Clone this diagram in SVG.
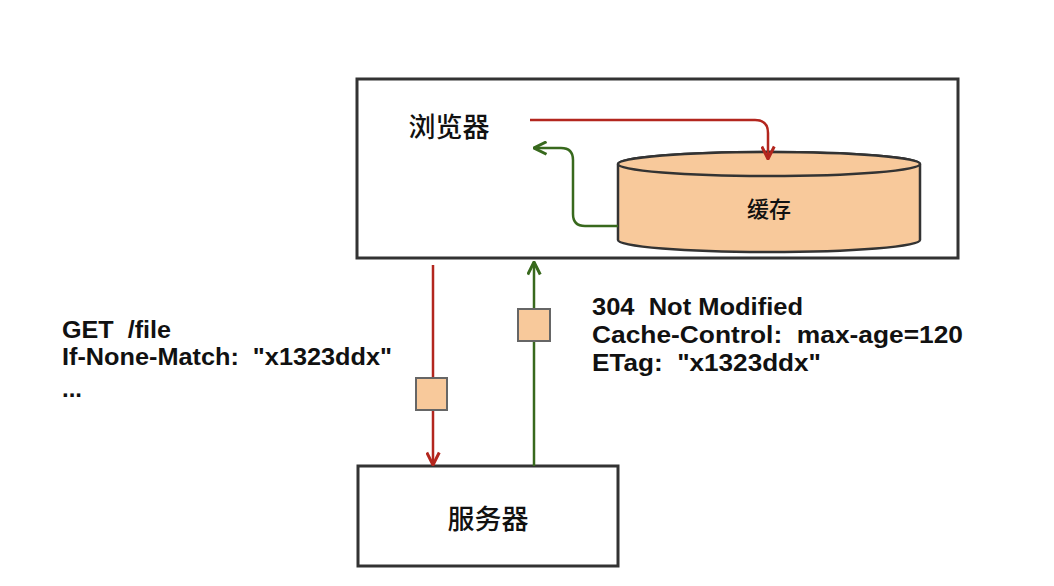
<svg xmlns="http://www.w3.org/2000/svg" width="1054" height="586" viewBox="0 0 1054 586">
<style>
.box{fill:#fff;stroke:#333;stroke-width:3}
.cyl{fill:#f8c99b;stroke:#333;stroke-width:2.5}
.msg{fill:#f8c99b;stroke:#666;stroke-width:2}
.cjk{font-family:"Noto Sans CJK SC","Noto Sans",sans-serif;font-weight:500;fill:#111}
.lbl{font-family:"Liberation Sans",Arial,sans-serif;font-weight:bold;font-size:23px;fill:#111}
.red{fill:none;stroke:#b3261e;stroke-width:2.5}
.green{fill:none;stroke:#38691d;stroke-width:2.5}
</style>
<defs>
<marker id="aR" viewBox="0 0 12 12" refX="11" refY="6" markerWidth="15" markerHeight="15" markerUnits="userSpaceOnUse" orient="auto">
<path d="M1,1 L11,6 L1,11" fill="none" stroke="#b3261e" stroke-width="2.4"/>
</marker>
<marker id="aG" viewBox="0 0 12 12" refX="11" refY="6" markerWidth="15" markerHeight="15" markerUnits="userSpaceOnUse" orient="auto">
<path d="M1,1 L11,6 L1,11" fill="none" stroke="#38691d" stroke-width="2.4"/>
</marker>
</defs>
<rect width="1054" height="586" fill="#fff"/>
<g id="browser">
<rect class="box" x="357" y="79" width="601" height="179"/>
<text class="cjk" x="449" y="137" font-size="27" text-anchor="middle">浏览器</text>
</g>
<g id="cache">
<path class="cyl" d="M618,164 L618,240 A151,12 0 0 0 920,240 L920,164 A151,12 0 0 0 618,164 Z"/>
<ellipse class="cyl" cx="769" cy="164" rx="151" ry="12"/>
<text class="cjk" x="769" y="217" font-size="22" text-anchor="middle">缓存</text>
</g>
<g id="server">
<rect class="box" x="358" y="466" width="260" height="100"/>
<text class="cjk" x="488" y="529" font-size="27" text-anchor="middle">服务器</text>
</g>
<g id="connectors">
<path class="red" d="M530,120 L755,120 Q768,120 768,133 L768,159" marker-end="url(#aR)"/>
<path class="green" d="M618,226 L585,226 Q573,226 573,214 L573,160 Q573,148 561,148 L534,148" marker-end="url(#aG)"/>
<path class="red" d="M433,265 L433,465" marker-end="url(#aR)"/>
<path class="green" d="M534,466 L534,262" marker-end="url(#aG)"/>
<rect class="msg" x="416" y="378" width="31" height="32"/>
<rect class="msg" x="518" y="309" width="32" height="32"/>
</g>
<g id="request-label">
<text class="lbl" x="62" y="338" xml:space="preserve" textLength="109" lengthAdjust="spacingAndGlyphs">GET  /file</text>
<text class="lbl" x="62" y="365" xml:space="preserve" textLength="330" lengthAdjust="spacingAndGlyphs">If-None-Match:  "x1323ddx"</text>
<text class="lbl" x="62" y="397" textLength="20" lengthAdjust="spacingAndGlyphs">...</text>
</g>
<g id="response-label">
<text class="lbl" x="592" y="315" xml:space="preserve" textLength="211" lengthAdjust="spacingAndGlyphs">304  Not Modified</text>
<text class="lbl" x="592" y="343" xml:space="preserve" textLength="371" lengthAdjust="spacingAndGlyphs">Cache-Control:  max-age=120</text>
<text class="lbl" x="592" y="371" xml:space="preserve" textLength="229" lengthAdjust="spacingAndGlyphs">ETag:  "x1323ddx"</text>
</g>
</svg>
